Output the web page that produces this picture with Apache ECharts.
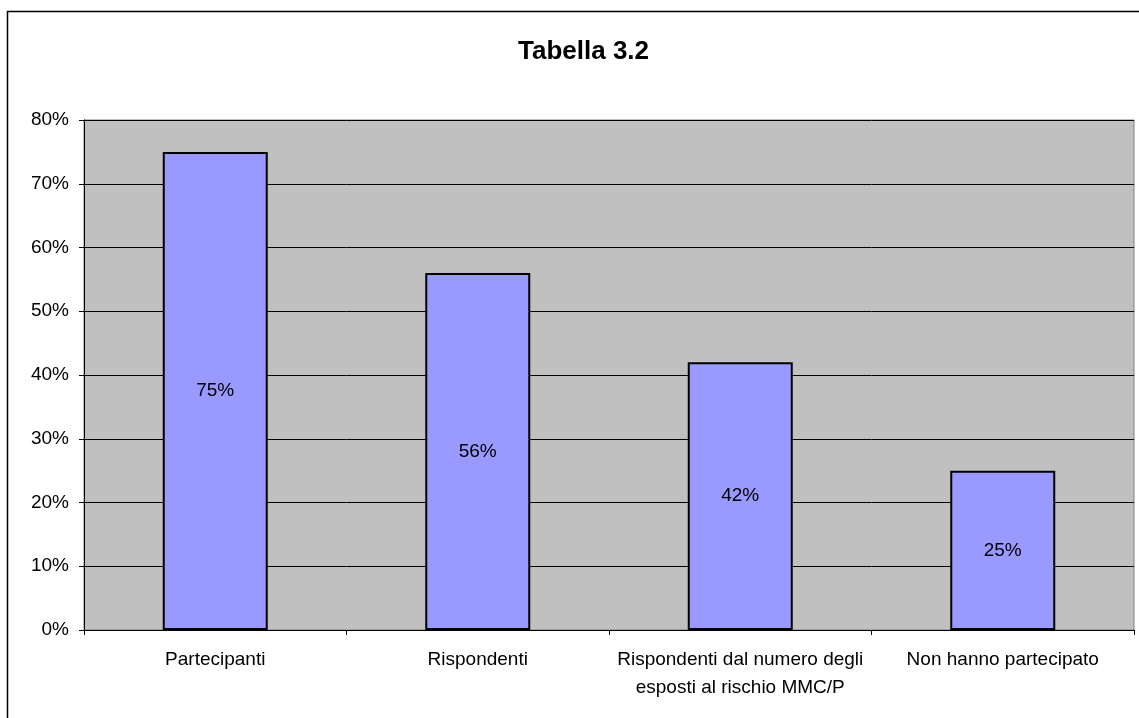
<!DOCTYPE html>
<html><head><meta charset="utf-8">
<script src="https://cdn.jsdelivr.net/npm/echarts@6/dist/echarts.min.js"></script>
<style>html,body{margin:0;padding:0;background:#fff}#c{width:1139px;height:718px}</style>
</head><body><div id="c"></div>
<script>
const titleText = 'Tabella 3.2';
const categories = ['Partecipanti', 'Rispondenti', 'Rispondenti dal numero degli\nesposti al rischio MMC/P', 'Non hanno partecipato'];
const values = [75, 56, 42, 25];
const yTicks = {min: 0, max: 80, interval: 10};

const chart = echarts.init(document.getElementById('c'), null, {renderer: 'canvas'});
const font = '"Liberation Sans", Arial, sans-serif';
chart.setOption({
  animation: false,
  backgroundColor: '#fff',
  title: {text: titleText, left: 513, top: 34, textStyle: {fontFamily: font, fontSize: 26, fontWeight: 'bold', color: '#000'}},
  graphic: [{type: 'rect', shape: {x: 7.5, y: 11.5, width: 1300, height: 900}, style: {fill: 'none', stroke: '#000', lineWidth: 1.5}, z: -1}],
  grid: {left: 84, top: 120, right: 5, bottom: 88, show: true, backgroundColor: '#c0c0c0', borderColor: '#808080', borderWidth: 1},
  xAxis: {
    type: 'category', data: categories,
    axisLine: {lineStyle: {color: '#000', width: 1}},
    axisTick: {show: true, alignWithLabel: false, length: 5, lineStyle: {color: '#000'}},
    axisLabel: {color: '#000', fontFamily: font, fontSize: 19, margin: 16, lineHeight: 28, interval: 0}
  },
  yAxis: {
    type: 'value', min: yTicks.min, max: yTicks.max, interval: yTicks.interval,
    axisLine: {show: true, lineStyle: {color: '#000', width: 1}},
    axisTick: {show: true, length: 5, lineStyle: {color: '#000'}},
    splitLine: {lineStyle: {color: '#000', width: 1}},
    axisLabel: {color: '#000', fontFamily: font, fontSize: 19, margin: 15, formatter: v => v + '%'}
  },
  series: [{
    type: 'bar', data: values, barWidth: '40%',
    itemStyle: {color: '#9999ff', borderColor: '#000', borderWidth: 2},
    label: {show: true, position: 'inside', color: '#000', fontFamily: font, fontSize: 19, formatter: p => p.value + '%'}
  }]
});
</script></body></html>
